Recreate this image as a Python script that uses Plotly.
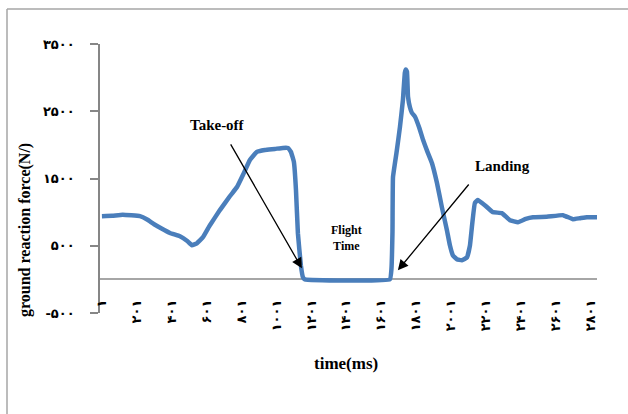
import plotly.graph_objects as go

# --- data (time in ms, force in N) ---
time_ms = [1, 60, 120, 219, 260, 300, 340, 391, 448, 490, 517, 545, 580, 620, 677,
           735, 775, 809, 849, 889, 935, 992, 1038, 1067, 1084, 1101, 1113, 1124,
           1141, 1153, 1164,
           1651, 1660, 1666, 1669, 1690, 1709, 1726, 1737, 1743, 1749, 1755, 1766,
           1777, 1795, 1820, 1841, 1866, 1892, 1921, 1949, 1978, 1995, 2012, 2035,
           2064, 2093, 2110, 2121, 2138, 2155, 2195, 2241, 2293, 2339, 2385, 2430,
           2471, 2550, 2643, 2700, 2740, 2780, 2838]
force_n = [940, 945, 960, 940, 890, 820, 760, 690, 640, 570, 507, 537, 627, 806, 1030,
           1239, 1373, 1552, 1776, 1896, 1925, 1940, 1955, 1955, 1896, 1746, 1328, 687,
           209, 30, 0,
           0, 150, 700, 1522, 1900, 2269, 2672, 3075, 3120, 3090, 2716, 2560,
           2478, 2418, 2250, 2075, 1900, 1731, 1433, 1075, 731, 507, 358, 299,
           284, 328, 507, 776, 1134, 1180, 1104, 1000, 985, 880, 850, 900,
           925, 930, 955, 895, 910, 925, 925]

x_tickvals = [1, 201, 401, 601, 801, 1001, 1201, 1401, 1601, 1801, 2001, 2201, 2401, 2601, 2801]
y_tickvals = [-500, 500, 1500, 2500, 3500]

_pd = str.maketrans("0123456789", "۰۱۲۳۴۵۶۷۸۹")
def persian(n):
    return str(n).translate(_pd)

x_ticktext = [persian(v) for v in x_tickvals]
y_ticktext = [persian(v) for v in y_tickvals]

fig = go.Figure()
fig.add_trace(go.Scatter(x=time_ms, y=force_n, mode="lines",
                         line=dict(color="#4A7EBB", width=4.5, shape="spline", smoothing=0.3),
                         showlegend=False, hoverinfo="skip"))

L, R, T, B = 100, 31, 44, 101
W, H = 628, 414
pw, ph = W - L - R, H - T - B

def px(x):
    return (x - L) / pw

def py(y):
    return (H - B - y) / ph

serif = "Liberation Serif, Times New Roman, serif"

fig.update_layout(
    width=W, height=H,
    margin=dict(l=L, r=R, t=T, b=B),
    paper_bgcolor="white", plot_bgcolor="white",
    xaxis=dict(range=[-10, 2838], tickvals=x_tickvals, ticktext=x_ticktext,
               tickangle=-90, showgrid=False, zeroline=False, showline=False,
               ticks="", anchor="free", position=py(296),
               tickfont=dict(family="DejaVu Sans", size=13, color="black", weight="bold")),
    yaxis=dict(range=[-500, 3500], tickvals=y_tickvals, ticktext=y_ticktext,
               showgrid=False, zeroline=True, zerolinecolor="#a6a6a6", zerolinewidth=1.5,
               showline=True, linecolor="#868686", linewidth=1.5,
               ticks="outside", ticklen=8, tickcolor="#868686", tickwidth=1.5,
               ticklabelstandoff=13,
               tickfont=dict(family="DejaVu Sans", size=13, color="black", weight="bold")),
    font=dict(family=serif, color="black"),
)

ann = []
ann.append(dict(text="<b>ground reaction force(N/)</b>", xref="paper", yref="paper",
                x=px(25), y=py(230), xanchor="center", yanchor="middle",
                showarrow=False, textangle=-90,
                font=dict(family=serif, size=16, color="black")))
ann.append(dict(text="<b>time(ms)</b>", xref="paper", yref="paper",
                x=px(346), y=py(375), showarrow=False,
                font=dict(family=serif, size=17, color="black")))
ann.append(dict(text="<b>Take-off</b>", x=666, y=2299, xref="x", yref="y",
                showarrow=False, font=dict(family=serif, size=15, color="black")))
ann.append(dict(text="<b>Landing</b>", x=2299, y=1687, xref="x", yref="y",
                showarrow=False, font=dict(family=serif, size=15, color="black")))
ann.append(dict(text="<b>Flight<br>Time</b>", x=1405, y=612, xref="x", yref="y",
                showarrow=False, font=dict(family=serif, size=12, color="black")))
ann.append(dict(x=1147, y=164, ax=734, ay=2030, xref="x", yref="y",
                axref="x", ayref="y", text="", showarrow=True,
                arrowhead=2, arrowsize=1.6, arrowwidth=1.3, arrowcolor="black"))
ann.append(dict(x=1697, y=134, ax=2110, ay=1433, xref="x", yref="y",
                axref="x", ayref="y", text="", showarrow=True,
                arrowhead=2, arrowsize=1.6, arrowwidth=1.3, arrowcolor="black"))
fig.update_layout(annotations=ann)

fig.add_shape(type="line", xref="paper", yref="paper",
              x0=px(7), y0=py(414), x1=px(7), y1=py(9),
              line=dict(color="#a6a6a6", width=1.5))
fig.add_shape(type="line", xref="paper", yref="paper",
              x0=px(7), y0=py(9), x1=px(628), y1=py(9),
              line=dict(color="#a6a6a6", width=1.5))

fig.write_html("out.html", config={"displayModeBar": False},
               post_script="document.body.style.margin='0';document.body.style.padding='0';")
